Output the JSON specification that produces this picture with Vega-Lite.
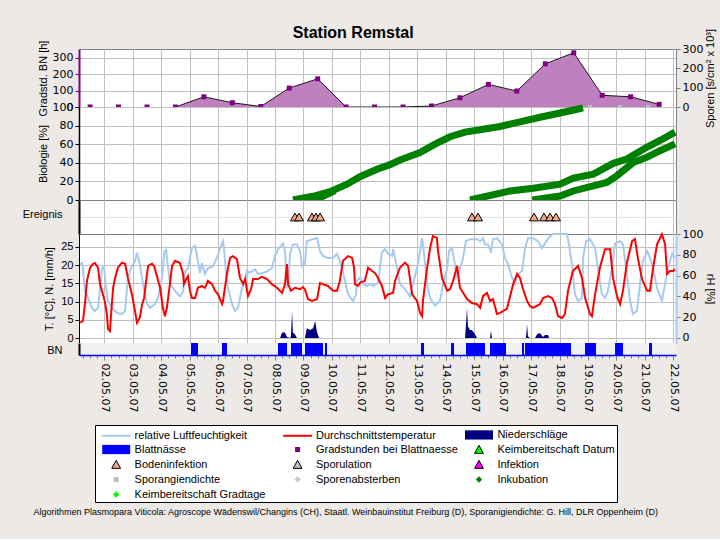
{
"$schema": "https://vega.github.io/schema/vega-lite/v6.json",
"background": "#ECE9E6",
"padding": {"left": 21, "top": 24, "right": 3, "bottom": 23},
"title": {"text": "Station Remstal", "font": "Liberation Sans", "fontSize": 16, "fontWeight": "bold", "color": "#000000", "anchor": "middle", "dx": -16, "offset": -13},
"config": {
  "view": {"stroke": "#808080", "fill": "#FFFFFF"},
  "axis": {"labelFont": "DejaVu Sans", "labelFontSize": 11, "labelColor": "#000000", "titleFont": "Liberation Sans", "titleFontSize": 11, "titleFontWeight": "normal", "titleColor": "#000000", "tickColor": "#000000", "domainColor": "#000000", "gridColor": "#C0C0C0", "gridOpacity": 1, "gridWidth": 1, "labelPadding": 2, "tickSize": 4, "labelFlush": false}
},
"datasets": {
  "gradstd": [{"d":1.5,"gh":0},{"d":2.5,"gh":0},{"d":3.5,"gh":0},{"d":4.5,"gh":0},{"d":5.5,"gh":62},{"d":6.5,"gh":26},{"d":7.5,"gh":3},{"d":8.5,"gh":115},{"d":9.5,"gh":171},{"d":10.5,"gh":0},{"d":11.5,"gh":0},{"d":12.5,"gh":0},{"d":13.5,"gh":6},{"d":14.5,"gh":56},{"d":15.5,"gh":137},{"d":16.5,"gh":97},{"d":17.5,"gh":262},{"d":18.5,"gh":329},{"d":19.5,"gh":71},{"d":20.5,"gh":62},{"d":21.5,"gh":16}],
  "spor": [{"d":19.07,"s":0},{"d":20.13,"s":0},{"d":21.11,"s":0}],
  "bio": [
    {"c":"1","d":8.633,"v":0},{"c":"1","d":9.336,"v":4},{"c":"1","d":9.933,"v":9},{"c":"1","d":10.531,"v":17},{"c":"1","d":10.988,"v":25},{"c":"1","d":11.585,"v":33},{"c":"1","d":12.042,"v":38},{"c":"1","d":12.394,"v":43},{"c":"1","d":13.097,"v":51},{"c":"1","d":13.624,"v":60},{"c":"1","d":14.151,"v":68},{"c":"1","d":14.678,"v":73},{"c":"1","d":15.206,"v":75.5},{"c":"1","d":15.909,"v":79},{"c":"1","d":16.612,"v":84},{"c":"1","d":17.315,"v":89},{"c":"1","d":18.018,"v":93.5},{"c":"1","d":18.545,"v":97},{"c":"1","d":18.826,"v":99},
    {"c":"1b","d":9.163,"v":0},{"c":"1b","d":9.515,"v":1.5},{"c":"1b","d":10.109,"v":10},
    {"c":"2","d":14.854,"v":0},{"c":"2","d":16.26,"v":9.7},{"c":"2","d":17.079,"v":12.6},{"c":"2","d":18.018,"v":17},{"c":"2","d":18.485,"v":23.5},{"c":"2","d":19.188,"v":27.8},{"c":"2","d":19.891,"v":39.4},{"c":"2","d":20.362,"v":44},{"c":"2","d":21.065,"v":56.7},{"c":"2","d":21.533,"v":64},{"c":"2","d":22.06,"v":73},
    {"c":"3","d":17.044,"v":0},{"c":"3","d":18.018,"v":4.3},{"c":"3","d":18.485,"v":9.7},{"c":"3","d":19.188,"v":15.2},{"c":"3","d":19.659,"v":18.8},{"c":"3","d":20.011,"v":26},{"c":"3","d":20.594,"v":40.4},{"c":"3","d":21.065,"v":45.8},{"c":"3","d":21.533,"v":53},{"c":"3","d":22.06,"v":60.3}
  ],
  "events": [{"d":8.703,"type":"Bodeninfektion"},{"d":8.844,"type":"Bodeninfektion"},{"d":9.301,"type":"Bodeninfektion"},{"d":9.441,"type":"Bodeninfektion"},{"d":9.582,"type":"Bodeninfektion"},{"d":14.924,"type":"Bodeninfektion"},{"d":15.135,"type":"Bodeninfektion"},{"d":17.104,"type":"Bodeninfektion"},{"d":17.455,"type":"Bodeninfektion"},{"d":17.666,"type":"Bodeninfektion"},{"d":17.877,"type":"Bodeninfektion"}],
  "temp": [{"d":1.15,"t":4.2},{"d":1.25,"t":4.7},{"d":1.32,"t":9.3},{"d":1.39,"t":15.7},{"d":1.5,"t":19.3},{"d":1.6,"t":20.3},{"d":1.67,"t":20.6},{"d":1.78,"t":19.3},{"d":1.85,"t":14.8},{"d":1.95,"t":12},{"d":2.02,"t":10},{"d":2.09,"t":6.6},{"d":2.13,"t":2.5},{"d":2.2,"t":1.9},{"d":2.24,"t":6.6},{"d":2.31,"t":13.8},{"d":2.38,"t":16.5},{"d":2.48,"t":19.3},{"d":2.62,"t":20.7},{"d":2.73,"t":20.4},{"d":2.83,"t":16.5},{"d":2.97,"t":12},{"d":3.08,"t":7.4},{"d":3.15,"t":4.2},{"d":3.25,"t":5.6},{"d":3.33,"t":9.3},{"d":3.4,"t":11},{"d":3.47,"t":15.7},{"d":3.54,"t":19.8},{"d":3.68,"t":20.4},{"d":3.75,"t":19.8},{"d":3.85,"t":17},{"d":3.96,"t":13.8},{"d":4.06,"t":8.3},{"d":4.13,"t":6},{"d":4.2,"t":8.3},{"d":4.31,"t":15},{"d":4.38,"t":19.8},{"d":4.49,"t":21.2},{"d":4.66,"t":20.6},{"d":4.77,"t":17.6},{"d":4.8,"t":14.8},{"d":4.87,"t":16},{"d":4.94,"t":17},{"d":5.01,"t":13},{"d":5.08,"t":11},{"d":5.19,"t":11},{"d":5.29,"t":13.8},{"d":5.43,"t":14.3},{"d":5.54,"t":13.8},{"d":5.64,"t":15.7},{"d":5.79,"t":14.8},{"d":5.89,"t":13},{"d":6.0,"t":12},{"d":6.14,"t":9.3},{"d":6.17,"t":10},{"d":6.31,"t":17.6},{"d":6.42,"t":22},{"d":6.52,"t":22.5},{"d":6.66,"t":21.7},{"d":6.77,"t":16.5},{"d":6.88,"t":14.8},{"d":6.95,"t":16.2},{"d":7.05,"t":11.5},{"d":7.16,"t":13.4},{"d":7.23,"t":16.2},{"d":7.4,"t":16.2},{"d":7.54,"t":16.8},{"d":7.72,"t":16.2},{"d":7.89,"t":14.8},{"d":8.07,"t":13.8},{"d":8.25,"t":12.4},{"d":8.35,"t":14.8},{"d":8.42,"t":20.3},{"d":8.46,"t":14.8},{"d":8.56,"t":13},{"d":8.7,"t":13.8},{"d":8.88,"t":13.4},{"d":8.98,"t":14},{"d":9.05,"t":13.4},{"d":9.16,"t":10.7},{"d":9.3,"t":10.2},{"d":9.48,"t":10.7},{"d":9.58,"t":15.1},{"d":9.69,"t":14.8},{"d":9.86,"t":14.3},{"d":10.04,"t":13},{"d":10.18,"t":13},{"d":10.28,"t":15.7},{"d":10.39,"t":21.2},{"d":10.57,"t":22.5},{"d":10.71,"t":22},{"d":10.78,"t":19.3},{"d":10.81,"t":14.8},{"d":10.92,"t":14.3},{"d":10.99,"t":15.2},{"d":11.16,"t":15.7},{"d":11.27,"t":19.3},{"d":11.41,"t":18.4},{"d":11.51,"t":17.9},{"d":11.62,"t":16.5},{"d":11.76,"t":14.3},{"d":11.87,"t":11},{"d":11.97,"t":12},{"d":12.15,"t":12.4},{"d":12.22,"t":15.7},{"d":12.39,"t":19.3},{"d":12.57,"t":20.7},{"d":12.68,"t":19.8},{"d":12.82,"t":12},{"d":12.99,"t":10.2},{"d":13.1,"t":6.9},{"d":13.17,"t":6},{"d":13.2,"t":10.2},{"d":13.34,"t":18.9},{"d":13.45,"t":24.7},{"d":13.55,"t":28},{"d":13.69,"t":27.5},{"d":13.73,"t":23.9},{"d":13.87,"t":16.5},{"d":14.05,"t":13},{"d":14.15,"t":13.4},{"d":14.26,"t":15.7},{"d":14.4,"t":19.8},{"d":14.5,"t":13.8},{"d":14.75,"t":10.7},{"d":14.92,"t":9.6},{"d":15.1,"t":9.3},{"d":15.21,"t":8.3},{"d":15.31,"t":11.5},{"d":15.45,"t":12.4},{"d":15.56,"t":10.2},{"d":15.66,"t":10.7},{"d":15.8,"t":6.6},{"d":15.91,"t":6.9},{"d":16.15,"t":8},{"d":16.37,"t":14.8},{"d":16.51,"t":17.6},{"d":16.61,"t":16.5},{"d":16.72,"t":13.4},{"d":16.86,"t":10.2},{"d":16.96,"t":8.8},{"d":17.07,"t":8.3},{"d":17.31,"t":9.3},{"d":17.42,"t":11},{"d":17.6,"t":11.5},{"d":17.74,"t":11},{"d":17.84,"t":9.3},{"d":17.95,"t":6},{"d":18.09,"t":5.5},{"d":18.19,"t":6.6},{"d":18.3,"t":13},{"d":18.47,"t":18.4},{"d":18.65,"t":19.8},{"d":18.79,"t":16.5},{"d":18.9,"t":11},{"d":19.07,"t":6.6},{"d":19.14,"t":6},{"d":19.25,"t":12},{"d":19.42,"t":19.3},{"d":19.6,"t":24.4},{"d":19.78,"t":24.4},{"d":19.88,"t":16.5},{"d":20.02,"t":11.5},{"d":20.13,"t":9.3},{"d":20.23,"t":13},{"d":20.37,"t":20.7},{"d":20.55,"t":26.6},{"d":20.65,"t":27.2},{"d":20.76,"t":21.7},{"d":20.9,"t":16.2},{"d":21.08,"t":13},{"d":21.18,"t":13},{"d":21.29,"t":19.3},{"d":21.43,"t":25.8},{"d":21.6,"t":28.5},{"d":21.71,"t":25.8},{"d":21.78,"t":17.6},{"d":21.88,"t":18.4},{"d":21.99,"t":18.4},{"d":22.06,"t":18.9}],
  "rh": [{"d":1.15,"rh":71},{"d":1.22,"rh":72},{"d":1.25,"rh":67},{"d":1.32,"rh":45},{"d":1.43,"rh":38.5},{"d":1.57,"rh":29},{"d":1.67,"rh":26},{"d":1.78,"rh":29},{"d":1.92,"rh":67},{"d":1.99,"rh":69},{"d":2.06,"rh":48},{"d":2.13,"rh":35.6},{"d":2.27,"rh":29},{"d":2.45,"rh":24},{"d":2.62,"rh":23},{"d":2.73,"rh":26},{"d":2.83,"rh":58},{"d":2.97,"rh":69},{"d":3.08,"rh":74},{"d":3.15,"rh":82},{"d":3.25,"rh":71},{"d":3.36,"rh":52},{"d":3.5,"rh":32.7},{"d":3.61,"rh":29},{"d":3.78,"rh":32.7},{"d":3.89,"rh":38.5},{"d":4.03,"rh":58},{"d":4.1,"rh":81},{"d":4.17,"rh":85.6},{"d":4.2,"rh":77},{"d":4.31,"rh":52},{"d":4.49,"rh":45},{"d":4.66,"rh":40},{"d":4.77,"rh":45},{"d":4.84,"rh":64},{"d":4.94,"rh":67},{"d":5.08,"rh":86.5},{"d":5.19,"rh":88.5},{"d":5.26,"rh":79},{"d":5.36,"rh":62.5},{"d":5.43,"rh":72},{"d":5.54,"rh":61.5},{"d":5.64,"rh":67},{"d":5.82,"rh":69},{"d":5.96,"rh":77},{"d":6.07,"rh":86.5},{"d":6.17,"rh":93},{"d":6.21,"rh":85.6},{"d":6.31,"rh":52},{"d":6.49,"rh":32.7},{"d":6.59,"rh":26},{"d":6.7,"rh":29},{"d":6.84,"rh":48},{"d":6.95,"rh":55},{"d":7.02,"rh":66},{"d":7.05,"rh":62.5},{"d":7.19,"rh":64.4},{"d":7.3,"rh":66},{"d":7.4,"rh":61.5},{"d":7.58,"rh":62.5},{"d":7.75,"rh":64.4},{"d":7.89,"rh":67},{"d":8.0,"rh":79},{"d":8.11,"rh":85.6},{"d":8.28,"rh":91},{"d":8.35,"rh":83.6},{"d":8.42,"rh":48},{"d":8.46,"rh":52},{"d":8.53,"rh":81},{"d":8.63,"rh":90},{"d":8.77,"rh":90},{"d":8.88,"rh":83.6},{"d":8.95,"rh":69},{"d":9.05,"rh":71},{"d":9.12,"rh":93},{"d":9.3,"rh":95},{"d":9.48,"rh":96},{"d":9.58,"rh":83.6},{"d":9.69,"rh":79},{"d":9.86,"rh":77},{"d":10.04,"rh":77},{"d":10.18,"rh":81},{"d":10.25,"rh":76},{"d":10.36,"rh":67},{"d":10.46,"rh":55},{"d":10.57,"rh":42},{"d":10.74,"rh":35.6},{"d":10.85,"rh":42},{"d":10.88,"rh":55},{"d":10.99,"rh":58},{"d":11.09,"rh":52},{"d":11.23,"rh":50},{"d":11.34,"rh":52},{"d":11.44,"rh":50},{"d":11.62,"rh":53},{"d":11.76,"rh":82},{"d":11.87,"rh":85.6},{"d":11.97,"rh":81},{"d":12.11,"rh":79},{"d":12.15,"rh":85.6},{"d":12.29,"rh":67},{"d":12.39,"rh":52},{"d":12.57,"rh":47},{"d":12.75,"rh":40},{"d":12.85,"rh":52},{"d":12.99,"rh":67},{"d":13.1,"rh":83.6},{"d":13.17,"rh":96},{"d":13.24,"rh":81},{"d":13.34,"rh":52},{"d":13.45,"rh":38.5},{"d":13.62,"rh":31},{"d":13.8,"rh":35.6},{"d":13.91,"rh":52},{"d":14.05,"rh":67},{"d":14.12,"rh":83.6},{"d":14.22,"rh":86.5},{"d":14.29,"rh":76},{"d":14.4,"rh":58},{"d":14.5,"rh":67},{"d":14.61,"rh":77},{"d":14.71,"rh":93},{"d":14.85,"rh":95},{"d":15.1,"rh":95},{"d":15.21,"rh":93},{"d":15.31,"rh":96},{"d":15.38,"rh":90},{"d":15.49,"rh":90},{"d":15.59,"rh":82},{"d":15.66,"rh":95},{"d":15.8,"rh":96},{"d":15.98,"rh":90},{"d":16.08,"rh":77},{"d":16.19,"rh":71},{"d":16.33,"rh":58},{"d":16.44,"rh":52},{"d":16.54,"rh":61.5},{"d":16.68,"rh":64.4},{"d":16.79,"rh":86.5},{"d":16.89,"rh":96},{"d":17.07,"rh":96},{"d":17.24,"rh":93},{"d":17.38,"rh":86.5},{"d":17.49,"rh":91},{"d":17.6,"rh":96},{"d":17.77,"rh":100},{"d":18.02,"rh":100},{"d":18.26,"rh":100},{"d":18.33,"rh":90},{"d":18.44,"rh":71},{"d":18.54,"rh":42},{"d":18.65,"rh":35.6},{"d":18.79,"rh":38.5},{"d":18.83,"rh":77},{"d":18.93,"rh":93},{"d":19.07,"rh":95},{"d":19.25,"rh":86.5},{"d":19.35,"rh":67},{"d":19.49,"rh":42},{"d":19.6,"rh":38.5},{"d":19.7,"rh":45},{"d":19.84,"rh":67},{"d":19.95,"rh":91},{"d":20.13,"rh":93},{"d":20.23,"rh":90},{"d":20.37,"rh":61.5},{"d":20.48,"rh":35.6},{"d":20.58,"rh":23},{"d":20.72,"rh":26},{"d":20.83,"rh":52},{"d":20.93,"rh":74},{"d":21.08,"rh":83.6},{"d":21.18,"rh":77},{"d":21.29,"rh":67},{"d":21.43,"rh":48},{"d":21.6,"rh":35.6},{"d":21.71,"rh":52},{"d":21.81,"rh":67},{"d":21.96,"rh":81},{"d":22.06,"rh":77}],
  "precip": [{"d":8.18,"p":0},{"d":8.25,"p":1.5},{"d":8.35,"p":1.5},{"d":8.42,"p":0.3},{"d":8.53,"p":0},{"d":8.56,"p":0.5},{"d":8.6,"p":7.4},{"d":8.63,"p":1.5},{"d":8.7,"p":1},{"d":8.77,"p":0},{"d":9.05,"p":0},{"d":9.12,"p":2.7},{"d":9.23,"p":2.2},{"d":9.34,"p":2.7},{"d":9.41,"p":4.7},{"d":9.48,"p":1.5},{"d":9.55,"p":0},{"d":14.68,"p":0},{"d":14.75,"p":8.3},{"d":14.78,"p":3.3},{"d":14.85,"p":2.2},{"d":14.92,"p":2.2},{"d":15.03,"p":1},{"d":15.1,"p":0},{"d":15.56,"p":0},{"d":15.59,"p":1.9},{"d":15.63,"p":0},{"d":16.82,"p":0},{"d":16.86,"p":3.8},{"d":16.89,"p":0.5},{"d":16.96,"p":0},{"d":17.14,"p":0},{"d":17.21,"p":1},{"d":17.31,"p":1.4},{"d":17.42,"p":0.3},{"d":17.49,"p":0.8},{"d":17.6,"p":0.8},{"d":17.63,"p":0}],
  "bn": [{"d1":5.047,"d2":5.293},{"d1":6.137,"d2":6.313},{"d1":8.105,"d2":8.422},{"d1":8.562,"d2":8.949},{"d1":9.054,"d2":9.687},{"d1":9.757,"d2":9.828},{"d1":13.132,"d2":13.237},{"d1":14.186,"d2":14.291},{"d1":14.713,"d2":15.381},{"d1":15.557,"d2":16.12},{"d1":16.682,"d2":16.752},{"d1":16.787,"d2":18.404},{"d1":18.896,"d2":19.283},{"d1":19.951,"d2":20.232},{"d1":21.146,"d2":21.251}],
  "legendEntries": [{"name":"relative Luftfeuchtigkeit"},{"name":"Durchschnittstemperatur"},{"name":"Niederschläge"},{"name":"Blattnässe"},{"name":"Gradstunden bei Blattnaesse"},{"name":"Keimbereitschaft Datum"},{"name":"Bodeninfektion"},{"name":"Sporulation"},{"name":"Infektion"},{"name":"Sporangiendichte"},{"name":"Sporenabsterben"},{"name":"Inkubation"},{"name":"Keimbereitschaft Gradtage"}]
},
"bounds": "flush",
"spacing": 0,
"vconcat": [
  {
    "width": 597, "height": 58,
    "layer": [
      {
        "layer": [
          {"data": {"name": "gradstd"}, "transform": [{"filter": "datum.d >= 4.5"}],
           "mark": {"type": "area", "color": "#BF80BF", "opacity": 1, "line": {"color": "#1A1A1A", "strokeWidth": 1}},
           "encoding": {
             "x": {"field": "d", "type": "quantitative", "scale": {"domain": [1.111, 22.094], "nice": false, "zero": false}, "axis": {"values": [2,3,4,5,6,7,8,9,10,11,12,13,14,15,16,17,18,19,20,21,22], "tickCount": 100, "labels": false, "ticks": false, "domain": false, "grid": true, "title": null}},
             "y": {"field": "gh", "type": "quantitative", "scale": {"domain": [0, 352], "nice": false}, "axis": {"orient": "left", "values": [0,100,200,300], "tickCount": 100, "format": "d", "labelOverlap": false, "title": "Gradstd. BN [h]", "titlePadding": 4, "domainColor": "#800080", "domainWidth": 2, "tickColor": "#800080", "grid": true}}
           }},
          {"data": {"name": "gradstd"},
           "mark": {"type": "square", "color": "#800080", "size": 25, "opacity": 1},
           "encoding": {
             "x": {"field": "d", "type": "quantitative", "scale": {"domain": [1.111, 22.094], "nice": false, "zero": false}},
             "y": {"field": "gh", "type": "quantitative", "scale": {"domain": [0, 352], "nice": false}}
           }},
          {"mark": {"type": "rule", "color": "#800080", "strokeWidth": 2, "strokeDash": [7, 4, 2, 4]},
           "encoding": {"y": {"datum": 45, "type": "quantitative", "scale": {"domain": [0, 352], "nice": false}}}},
          {"mark": {"type": "rule", "color": "#000000", "strokeWidth": 1.5},
           "encoding": {"y": {"datum": 0, "type": "quantitative", "scale": {"domain": [0, 352], "nice": false}}}}
        ]
      },
      {"data": {"name": "spor"},
       "mark": {"type": "square", "color": "#C0C0C0", "size": 16, "opacity": 1},
       "encoding": {
         "x": {"field": "d", "type": "quantitative", "scale": {"domain": [1.111, 22.094], "nice": false, "zero": false}},
         "y": {"field": "s", "type": "quantitative", "scale": {"domain": [0, 300], "nice": false}, "axis": {"orient": "right", "values": [0,100,200,300], "tickCount": 100, "format": "d", "labelOverlap": false, "title": "Sporen [s/cm² x 10³]", "titleAngle": 270, "titleBaseline": "top", "titlePadding": 2, "grid": false, "domainColor": "#808080", "tickColor": "#808080"}}
       }}
    ],
    "resolve": {"scale": {"y": "independent"}, "axis": {"y": "independent"}}
  },
  {
    "width": 597, "height": 93,
    "layer": [
      {"data": {"name": "bio"},
       "mark": {"type": "line", "color": "#008000", "strokeWidth": 7, "strokeCap": "butt"},
       "encoding": {
         "x": {"field": "d", "type": "quantitative", "scale": {"domain": [1.111, 22.094], "nice": false, "zero": false}, "axis": {"values": [2,3,4,5,6,7,8,9,10,11,12,13,14,15,16,17,18,19,20,21,22], "tickCount": 100, "labels": false, "ticks": false, "domain": false, "grid": true, "title": null}},
         "y": {"field": "v", "type": "quantitative", "scale": {"domain": [0, 100], "nice": false}, "axis": {"values": [0,20,40,60,80,100], "tickCount": 100, "format": "d", "labelOverlap": false, "title": "Biologie [%]", "titlePadding": 4, "domainWidth": 1.5, "grid": true}},
         "detail": {"field": "c", "type": "nominal"}
       }},
      {"mark": {"type": "rule", "color": "#000000", "strokeWidth": 2},
       "encoding": {"y": {"datum": 0, "type": "quantitative", "scale": {"domain": [0, 100], "nice": false}}}}
    ]
  },
  {
    "width": 597, "height": 34,
    "data": {"name": "events"},
    "mark": {"type": "point", "shape": "triangle-up", "filled": true, "fill": "#F4A582", "stroke": "#000000", "strokeWidth": 1, "size": 80, "opacity": 1},
    "encoding": {
      "x": {"field": "d", "type": "quantitative", "scale": {"domain": [1.111, 22.094], "nice": false, "zero": false}, "axis": {"values": [2,3,4,5,6,7,8,9,10,11,12,13,14,15,16,17,18,19,20,21,22], "tickCount": 100, "labels": false, "ticks": false, "domain": false, "grid": true, "title": null}},
      "y": {"datum": 1, "type": "quantitative", "scale": {"domain": [0, 2], "nice": false}, "axis": {"values": [1], "labels": false, "ticks": false, "grid": true, "gridColor": "#E0E0E0", "domainWidth": 2, "title": "Ereignis", "titleAngle": 0, "titleX": -17, "titleY": 14, "titleAlign": "right", "titleBaseline": "middle"}}
    }
  },
  {
    "width": 597, "height": 109,
    "layer": [
      {"data": {"name": "rh"},
       "mark": {"type": "line", "color": "#A6CAF0", "strokeWidth": 2},
       "encoding": {
         "x": {"field": "d", "type": "quantitative", "scale": {"domain": [1.111, 22.094], "nice": false, "zero": false}, "axis": {"values": [2,3,4,5,6,7,8,9,10,11,12,13,14,15,16,17,18,19,20,21,22], "tickCount": 100, "labels": false, "ticks": false, "domain": false, "grid": true, "title": null}},
         "y": {"field": "rh", "type": "quantitative", "scale": {"domain": [-4.81, 100], "nice": false, "zero": false}, "axis": {"orient": "right", "values": [0,20,40,60,80,100], "tickCount": 100, "format": "d", "labelOverlap": false, "title": "rH [%]", "titlePadding": 2, "grid": false, "domainColor": "#A6CAF0", "domainWidth": 2, "tickColor": "#808080"}}
       }},
      {
        "layer": [
          {"data": {"name": "precip"},
           "mark": {"type": "area", "color": "#000080", "opacity": 1},
           "encoding": {
             "x": {"field": "d", "type": "quantitative", "scale": {"domain": [1.111, 22.094], "nice": false, "zero": false}},
             "y": {"field": "p", "type": "quantitative", "scale": {"domain": [-1.37, 28.57], "nice": false, "zero": false}, "axis": {"orient": "left", "values": [0,5,10,15,20,25], "tickCount": 100, "format": "d", "labelOverlap": false, "labelFont": "Liberation Sans", "title": "T. [°C], N. [mm/h]", "titlePadding": 6, "grid": true}}
           }},
          {"data": {"name": "temp"},
           "mark": {"type": "line", "color": "#FF0000", "strokeWidth": 2},
           "encoding": {
             "x": {"field": "d", "type": "quantitative", "scale": {"domain": [1.111, 22.094], "nice": false, "zero": false}},
             "y": {"field": "t", "type": "quantitative", "scale": {"domain": [-1.37, 28.57], "nice": false, "zero": false}}
           }},
          {"mark": {"type": "rule", "color": "#000080", "strokeWidth": 2.5},
           "encoding": {"y": {"datum": 0, "type": "quantitative", "scale": {"domain": [-1.37, 28.57], "nice": false, "zero": false}}}}
        ]
      }
    ],
    "resolve": {"scale": {"y": "independent"}, "axis": {"y": "independent"}}
  },
  {
    "width": 597, "height": 12,
    "view": {"fill": "#F0F0F0", "stroke": null},
    "layer": [
      {"data": {"name": "bn"},
       "mark": {"type": "rect", "color": "#0000FF"},
       "encoding": {
         "x": {"field": "d1", "type": "quantitative", "scale": {"domain": [1.111, 22.094], "nice": false, "zero": false},
               "axis": {"orient": "bottom", "values": [1.25,1.5,1.75,2,2.25,2.5,2.75,3,3.25,3.5,3.75,4,4.25,4.5,4.75,5,5.25,5.5,5.75,6,6.25,6.5,6.75,7,7.25,7.5,7.75,8,8.25,8.5,8.75,9,9.25,9.5,9.75,10,10.25,10.5,10.75,11,11.25,11.5,11.75,12,12.25,12.5,12.75,13,13.25,13.5,13.75,14,14.25,14.5,14.75,15,15.25,15.5,15.75,16,16.25,16.5,16.75,17,17.25,17.5,17.75,18,18.25,18.5,18.75,19,19.25,19.5,19.75,20,20.25,20.5,20.75,21,21.25,21.5,21.75,22],
                        "tickCount": 200,
                        "labelExpr": "datum.value % 1 === 0 ? ((datum.value < 10 ? '0' : '') + datum.value + '.05.07') : ''",
                        "labelAngle": 90, "labelAlign": "left", "labelBaseline": "middle", "labelPadding": 3, "labelOverlap": false,
                        "tickSize": {"condition": {"test": "datum.value % 1 === 0", "value": 5}, "value": 3},
                        "tickColor": "#808080", "domainColor": "#0000FF", "domainWidth": 1.5, "grid": false,
                        "title": "Algorithmen Plasmopara Viticola: Agroscope Wädenswil/Changins (CH), Staatl. Weinbauinstitut Freiburg (D), Sporanigiendichte: G. Hill, DLR Oppenheim (D)",
                        "titleFont": "Liberation Sans", "titleFontSize": 9, "titleFontWeight": "normal", "titleColor": "#000000",
                        "titleX": -46, "titleY": 156, "titleAlign": "left", "titleBaseline": "middle", "titleAngle": 0}},
         "x2": {"field": "d2"},
         "y": {"datum": 0, "type": "quantitative", "scale": {"domain": [0, 1], "nice": false}, "axis": {"labels": false, "ticks": false, "grid": false, "domainWidth": 2, "title": "BN", "titleAngle": 0, "titleX": -17, "titleY": 7, "titleAlign": "right", "titleBaseline": "middle"}},
         "y2": {"datum": 1}
       }},
      {"data": {"name": "legendEntries"}, "transform": [{"filter": "false"}],
       "mark": {"type": "point", "filled": true, "opacity": 1},
       "encoding": {
         "shape": {"field": "name", "type": "nominal",
           "scale": {"domain": ["relative Luftfeuchtigkeit","Durchschnittstemperatur","Niederschläge","Blattnässe","Gradstunden bei Blattnaesse","Keimbereitschaft Datum","Bodeninfektion","Sporulation","Infektion","Sporangiendichte","Sporenabsterben","Inkubation","Keimbereitschaft Gradtage"],
                     "range": ["M-0.4,-0.14L3.74,-0.14L3.74,0.14L-0.4,0.14Z","M-0.4,-0.14L3.74,-0.14L3.74,0.14L-0.4,0.14Z","M-0.33,-0.66L3.67,-0.66L3.67,0.66L-0.33,0.66Z","M-0.33,-0.66L3.67,-0.66L3.67,0.66L-0.33,0.66Z","M1.31,-0.36L2.03,-0.36L2.03,0.36L1.31,0.36Z","M1.67,-0.6L2.3,0.55L1.04,0.55Z","M1.67,-0.6L2.3,0.55L1.04,0.55Z","M1.67,-0.6L2.3,0.55L1.04,0.55Z","M1.67,-0.6L2.3,0.55L1.04,0.55Z","M1.31,-0.36L2.03,-0.36L2.03,0.36L1.31,0.36Z","M1.67,-0.45L2.12,0L1.67,0.45L1.22,0Z","M1.67,-0.45L2.12,0L1.67,0.45L1.22,0Z","M1.67,-0.45L2.12,0L1.67,0.45L1.22,0Z"]},
           "legend": {"title": null, "orient": "none", "legendX": 16, "legendY": 376, "direction": "horizontal", "columns": 3, "gridAlign": "all", "columnPadding": 1.4, "rowPadding": -1, "symbolSize": 196, "symbolStrokeWidth": 1, "labelOffset": 22.6, "labelFont": "Liberation Sans", "labelFontSize": 11, "labelColor": "#000000", "labelLimit": 300, "padding": 2, "strokeColor": "#000000", "fillColor": "#FFFFFF", "symbolOpacity": 1, "values": ["relative Luftfeuchtigkeit","Durchschnittstemperatur","Niederschläge","Blattnässe","Gradstunden bei Blattnaesse","Keimbereitschaft Datum","Bodeninfektion","Sporulation","Infektion","Sporangiendichte","Sporenabsterben","Inkubation","Keimbereitschaft Gradtage"]}},
         "fill": {"field": "name", "type": "nominal",
           "scale": {"domain": ["relative Luftfeuchtigkeit","Durchschnittstemperatur","Niederschläge","Blattnässe","Gradstunden bei Blattnaesse","Keimbereitschaft Datum","Bodeninfektion","Sporulation","Infektion","Sporangiendichte","Sporenabsterben","Inkubation","Keimbereitschaft Gradtage"],
                     "range": ["#A6CAF0","#FF0000","#000080","#0000FF","#800080","#00FF00","#F4A582","#C0C0C0","#FF00FF","#C0C0C0","#C8C8C8","#008000","#00FF00"]},
           "legend": {"title": null, "orient": "none", "legendX": 16, "legendY": 376, "direction": "horizontal", "columns": 3, "gridAlign": "all", "columnPadding": 1.4, "rowPadding": -1, "symbolSize": 196, "symbolStrokeWidth": 1, "labelOffset": 22.6, "labelFont": "Liberation Sans", "labelFontSize": 11, "labelColor": "#000000", "labelLimit": 300, "padding": 2, "strokeColor": "#000000", "fillColor": "#FFFFFF", "symbolOpacity": 1, "values": ["relative Luftfeuchtigkeit","Durchschnittstemperatur","Niederschläge","Blattnässe","Gradstunden bei Blattnaesse","Keimbereitschaft Datum","Bodeninfektion","Sporulation","Infektion","Sporangiendichte","Sporenabsterben","Inkubation","Keimbereitschaft Gradtage"]}},
         "stroke": {"field": "name", "type": "nominal",
           "scale": {"domain": ["relative Luftfeuchtigkeit","Durchschnittstemperatur","Niederschläge","Blattnässe","Gradstunden bei Blattnaesse","Keimbereitschaft Datum","Bodeninfektion","Sporulation","Infektion","Sporangiendichte","Sporenabsterben","Inkubation","Keimbereitschaft Gradtage"],
                     "range": ["transparent","transparent","transparent","transparent","transparent","#000000","#000000","#000000","#000000","transparent","transparent","transparent","transparent"]},
           "legend": {"title": null, "orient": "none", "legendX": 16, "legendY": 376, "direction": "horizontal", "columns": 3, "gridAlign": "all", "columnPadding": 1.4, "rowPadding": -1, "symbolSize": 196, "symbolStrokeWidth": 1, "labelOffset": 22.6, "labelFont": "Liberation Sans", "labelFontSize": 11, "labelColor": "#000000", "labelLimit": 300, "padding": 2, "strokeColor": "#000000", "fillColor": "#FFFFFF", "symbolOpacity": 1, "values": ["relative Luftfeuchtigkeit","Durchschnittstemperatur","Niederschläge","Blattnässe","Gradstunden bei Blattnaesse","Keimbereitschaft Datum","Bodeninfektion","Sporulation","Infektion","Sporangiendichte","Sporenabsterben","Inkubation","Keimbereitschaft Gradtage"]}}
       }}
    ]
  }
]
}
